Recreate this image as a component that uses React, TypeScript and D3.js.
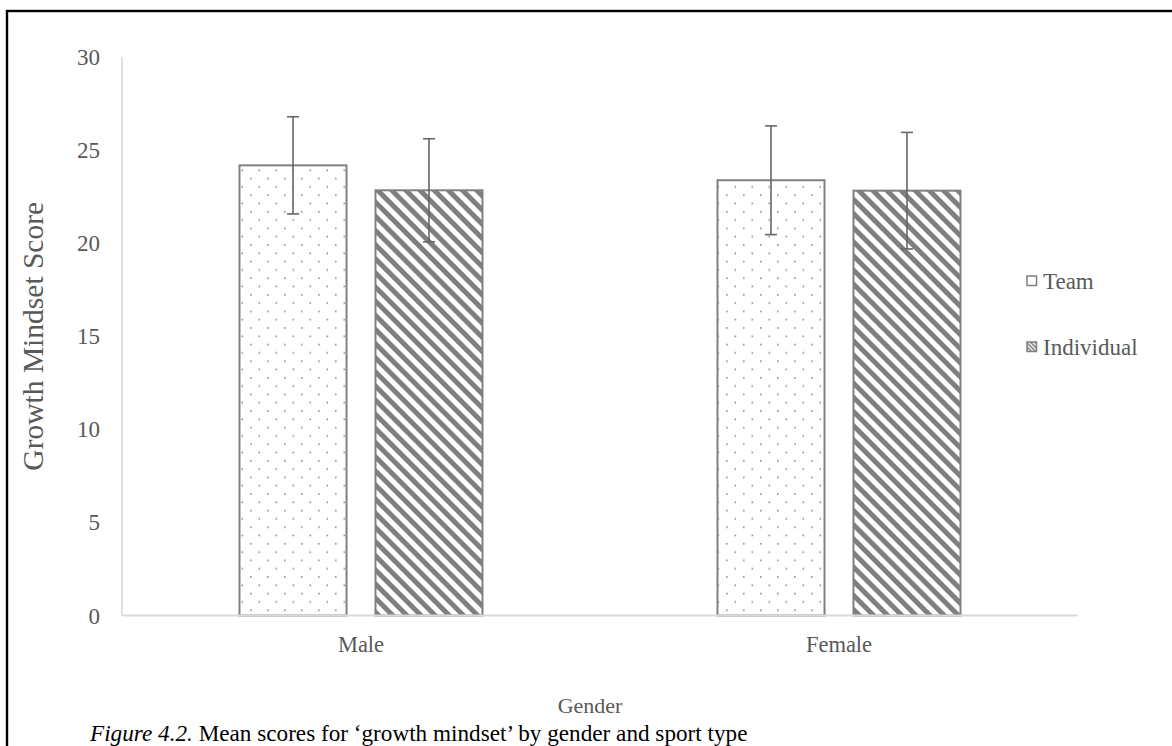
import React from 'react';
import * as d3 from 'd3';

const genders = ['Male', 'Female'];
const sportTypes = ['Team', 'Individual'];
const teamMeans = [24.18, 23.38];
const teamSD = [2.61, 2.92];
const individualMeans = [22.84, 22.82];
const individualSD = [2.77, 3.13];
const yTicks = [0, 5, 10, 15, 20, 25, 30];

interface BarDatum {
  gender: string;
  sport: string;
  mean: number;
  sd: number;
}

const bars: BarDatum[] = genders.flatMap((g, i) => [
  { gender: g, sport: 'Team', mean: teamMeans[i], sd: teamSD[i] },
  { gender: g, sport: 'Individual', mean: individualMeans[i], sd: individualSD[i] },
]);

const W = 1172;
const H = 746;
const plot = { left: 122, right: 1078, top: 57, bottom: 615.5 };
const axisGray = '#595959';
const barGray = '#808080';
const font = '"Liberation Serif", "Times New Roman", serif';

export default function App() {
  const x = d3.scaleBand<string>().domain(genders).range([plot.left, plot.right]);
  const xSub = d3
    .scaleBand<string>()
    .domain(sportTypes)
    .range([0, x.bandwidth()])
    .paddingInner(0.213)
    .paddingOuter(0.864);
  const y = d3.scaleLinear().domain([0, 30]).range([plot.bottom, plot.top]);

  const fillFor = (s: string) => (s === 'Team' ? 'url(#dots)' : 'url(#stripes)');

  return (
    <div style={{ position: 'absolute', left: 0, top: 0 }}>
      <svg width={W} height={H} style={{ display: 'block', background: '#fff' }}>
        <defs>
          <pattern id="dots" patternUnits="userSpaceOnUse" width={17} height={16.6}>
            <rect width={17} height={16.6} fill="#fff" />
            <rect x={3.5} y={3.5} width={1.6} height={1.6} fill="#8c8c8c" />
            <rect x={12} y={11.8} width={1.6} height={1.6} fill="#8c8c8c" />
          </pattern>
          <pattern
            id="stripes"
            patternUnits="userSpaceOnUse"
            width={10}
            height={10}
            patternTransform="rotate(-45)"
          >
            <rect width={10} height={10} fill="#fff" />
            <rect width={5} height={10} fill="#7f7f7f" />
          </pattern>
          <pattern
            id="stripesSmall"
            patternUnits="userSpaceOnUse"
            width={3}
            height={3}
            patternTransform="rotate(-45)"
          >
            <rect width={3} height={3} fill="#fff" />
            <rect width={1.6} height={3} fill="#7f7f7f" />
          </pattern>
        </defs>

        {/* outer frame */}
        <rect x={7} y={11} width={W + 20} height={H + 20} fill="none" stroke="#000" strokeWidth={2.4} />

        {/* y axis */}
        <line x1={plot.left} x2={plot.left} y1={plot.top} y2={plot.bottom} stroke="#bfbfbf" strokeWidth={1} />
        {yTicks.map((t) => (
          <text
            key={t}
            x={100}
            y={y(t)}
            dy="0.35em"
            textAnchor="end"
            fontFamily={font}
            fontSize={23}
            fill={axisGray}
          >
            {t}
          </text>
        ))}

        {/* bars */}
        {bars.map((d) => {
          const bx = (x(d.gender) ?? 0) + (xSub(d.sport) ?? 0);
          return (
            <rect
              key={d.gender + d.sport}
              x={bx}
              y={y(d.mean)}
              width={xSub.bandwidth()}
              height={y(0) - y(d.mean)}
              fill={fillFor(d.sport)}
              stroke={barGray}
              strokeWidth={2}
            />
          );
        })}

        {/* x axis */}
        <line x1={plot.left} x2={plot.right} y1={plot.bottom} y2={plot.bottom} stroke="#d9d9d9" strokeWidth={2} />

        {/* error bars */}
        {bars.map((d) => {
          const cx = (x(d.gender) ?? 0) + (xSub(d.sport) ?? 0) + xSub.bandwidth() / 2;
          const y1 = y(d.mean + d.sd);
          const y2 = y(d.mean - d.sd);
          return (
            <g key={'e' + d.gender + d.sport} stroke="#666" strokeWidth={1.6}>
              <line x1={cx} x2={cx} y1={y1} y2={y2} />
              <line x1={cx - 6} x2={cx + 6} y1={y1} y2={y1} />
              <line x1={cx - 6} x2={cx + 6} y1={y2} y2={y2} />
            </g>
          );
        })}

        {/* x tick labels */}
        {genders.map((g) => (
          <text
            key={g}
            x={(x(g) ?? 0) + x.bandwidth() / 2}
            y={652}
            textAnchor="middle"
            fontFamily={font}
            fontSize={22.5}
            fill={axisGray}
          >
            {g}
          </text>
        ))}

        {/* axis titles */}
        <text
          x={590}
          y={713}
          textAnchor="middle"
          fontFamily={font}
          fontSize={22}
          fill={axisGray}
        >
          Gender
        </text>
        <text
          transform={`translate(43, ${(plot.top + plot.bottom) / 2}) rotate(-90)`}
          textAnchor="middle"
          fontFamily={font}
          fontSize={29.5}
          fill={axisGray}
        >
          Growth Mindset Score
        </text>

        {/* legend */}
        {sportTypes.map((s, i) => {
          const ly = 281 + i * 66;
          return (
            <g key={s}>
              <rect
                x={1027}
                y={ly - 5}
                width={9.5}
                height={9.5}
                fill={s === 'Team' ? '#fff' : 'url(#stripesSmall)'}
                stroke="#7f7f7f"
                strokeWidth={1.5}
              />
              <text
                x={1043}
                y={ly}
                dy="0.35em"
                fontFamily={font}
                fontSize={23}
                fill={axisGray}
              >
                {s}
              </text>
            </g>
          );
        })}

        {/* caption */}
        <text x={90} y={741} fontFamily={font} fontSize={23.2} fill="#000">
          <tspan fontStyle="italic">Figure 4.2.</tspan>
          <tspan> Mean scores for ‘growth mindset’ by gender and sport type</tspan>
        </text>
      </svg>
    </div>
  );
}
